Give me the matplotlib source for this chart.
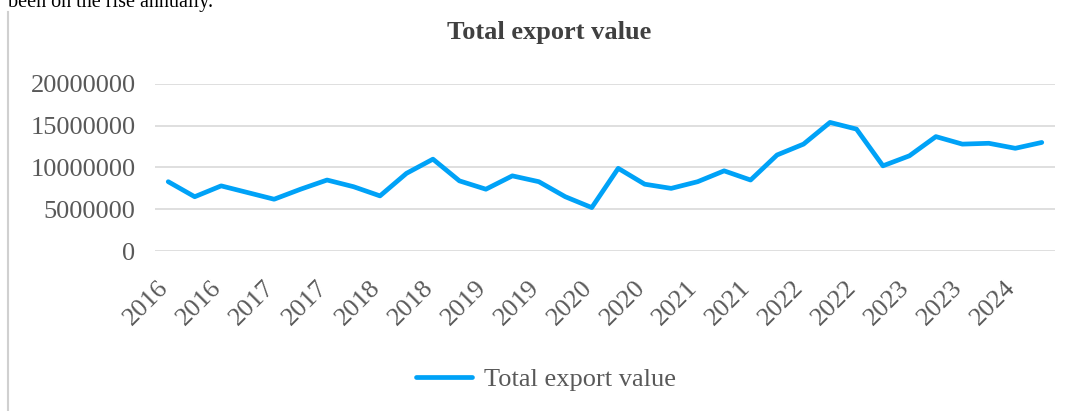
import matplotlib
matplotlib.use("Agg")
import matplotlib.pyplot as plt
from matplotlib.lines import Line2D
from matplotlib.transforms import ScaledTranslation

# Quarterly total export value, 2016 to mid-2024
periods = ["2016", "2016", "2016", "2016",
           "2017", "2017", "2017", "2017",
           "2018", "2018", "2018", "2018",
           "2019", "2019", "2019", "2019",
           "2020", "2020", "2020", "2020",
           "2021", "2021", "2021", "2021",
           "2022", "2022", "2022", "2022",
           "2023", "2023", "2023", "2023",
           "2024", "2024"]
export_value = [8300000, 6500000, 7800000, 7000000,
                6200000, 7400000, 8500000, 7700000,
                6600000, 9300000, 11000000, 8400000,
                7400000, 9000000, 8300000, 6500000,
                5200000, 9900000, 8000000, 7500000,
                8300000, 9600000, 8500000, 11500000,
                12800000, 15400000, 14600000, 10200000,
                11400000, 13700000, 12800000, 12900000,
                12300000, 13000000]
y_ticks = [0, 5000000, 10000000, 15000000, 20000000]

W, H = 1076, 411
serif = ["Liberation Serif", "DejaVu Serif"]
plt.rcParams["font.family"] = serif

fig = plt.figure(figsize=(W / 100, H / 100), dpi=100)
ax = fig.add_axes([155 / W, 1 - 251 / H, 900 / W, 167 / H])

x = list(range(len(export_value)))
line_color = "#00A2F7"
ax.plot(x, export_value, color=line_color, lw=3.4,
        solid_capstyle="round", solid_joinstyle="round",
        label="Total export value", zorder=3)

ax.set_xlim(-0.5, len(export_value) - 0.5)
ax.set_ylim(0, 20000000)
ax.set_yticks(y_ticks)
ax.set_yticklabels([str(v) for v in y_ticks])
ax.grid(axis="y", color="#D9D9D9", lw=1.2)
ax.set_axisbelow(True)
for s in ax.spines.values():
    s.set_visible(False)

tick_pos = x[::2]
ax.set_xticks(tick_pos)
ax.set_xticklabels([periods[i] for i in tick_pos], rotation=45,
                   ha="right", va="top", rotation_mode="anchor")
ax.tick_params(axis="both", length=0, labelsize=19, labelcolor="#595959")
ax.tick_params(axis="y", pad=14)
ax.tick_params(axis="x", pad=12)

# nudge the slanted year labels so each one ends at its category
shift = ScaledTranslation(-11 / 100, -9 / 100, fig.dpi_scale_trans)
for lbl in ax.get_xticklabels():
    lbl.set_transform(lbl.get_transform() + shift)

fig.text(549 / W, 1 - 32 / H, "Total export value", ha="center", va="center",
         fontsize=19, fontweight="bold", color="#404040")

fig.legend(loc="center", bbox_to_anchor=(546 / W, 1 - 379 / H), frameon=False,
           fontsize=19, handlelength=2.1, handletextpad=0.45,
           labelcolor="#595959")

# surrounding document text and frame edge
fig.text(8 / W, 1 - 7 / H, "been on the rise annually.", ha="left",
         va="baseline", fontsize=14.5, color="black")
fig.add_artist(Line2D([7.5 / W, 7.5 / W], [0, 1 - 12 / H],
                      transform=fig.transFigure, color="#D0D0D0", lw=1.5))

fig.savefig("out.png", dpi=100)
